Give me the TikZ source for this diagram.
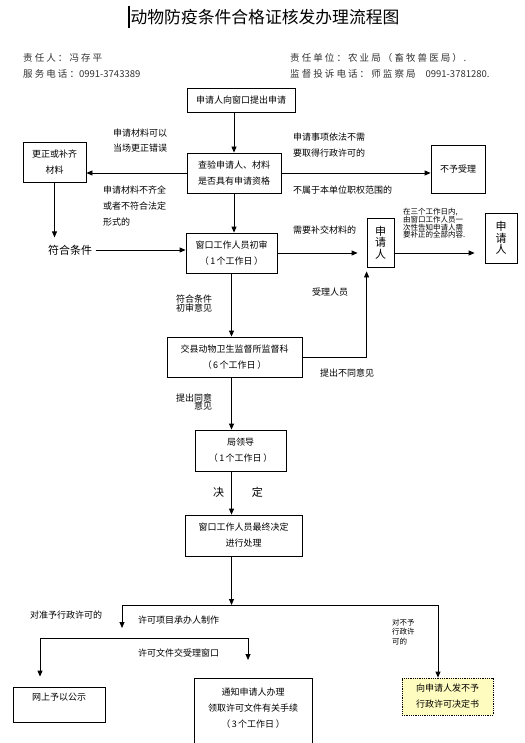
\documentclass[tikz,border=0pt]{standalone}
\usepackage{fontspec}
\setmainfont{Noto Sans CJK SC}
\usetikzlibrary{arrows.meta,positioning}
\newcommand{\wide}[1]{{\addfontfeature{LetterSpace=22}#1}}

\begin{document}
\begin{tikzpicture}[
  x=1pt,y=-1pt,
  box/.style={draw,line width=0.8pt,align=center,inner sep=1pt,font=\fontsize{9}{16}\selectfont},
  vbox/.style={box,font=\fontsize{11}{11.5}\selectfont},
  note/.style={anchor=west,align=left,inner sep=0pt,font=\fontsize{9}{16}\selectfont},
  head/.style={anchor=west,inner sep=0pt,text=black!80,font=\fontsize{9.5}{10}\selectfont},
  wire/.style={line width=0.8pt},
  arrow/.style={-{Triangle[length=6pt,width=5pt]},line width=0.8pt}
]
\useasboundingbox (0,0) rectangle (524,743);
\clip (0,0) rectangle (524,743);
\fill[white] (0,0) rectangle (524,743);

\node[font=\fontsize{16.8}{20}\selectfont] (title) at (265,17) {动物防疫条件合格证核发办理流程图};
\draw[line width=1.8pt] ([xshift=2pt]title.north west) -- ([xshift=2pt]title.south west);

\node[head] (who) at (23,58) {\wide{责任人：冯存平}};
\node[head] (tel) at (23,74) {\wide{服务电话：}0991-3743389};
\node[head] (unit) at (290,58) {\wide{责任单位：农业局（畜牧兽医局）}\,.};
\node[head] (watch) at (290,74) {\wide{监督投诉电话：师监察局}\hspace{10pt}0991-3781280.};

\node[box,minimum width=108,minimum height=24] (apply) at (241,100) {申请人向窗口提出申请};
\node[box,minimum width=94,minimum height=40] (check) at (234,173) {查验申请人、材料\\是否具有申请资格};
\node[box,minimum width=63,minimum height=40] (fix) at (54.5,162) {更正或补齐\\材料};
\node[box,minimum width=54,minimum height=48] (reject) at (458,169) {不予受理};
\node[font=\fontsize{11}{12}\selectfont] (ok) at (70,250) {符合条件};
\node[box,minimum width=91,minimum height=40] (first) at (231.5,253) {窗口工作人员初审\\（\,1\,个工作日\,）};
\node[vbox,minimum width=27,minimum height=49] (appl1) at (380.5,242.5) {申\\请\\人};
\node[vbox,minimum width=32,minimum height=50] (appl2) at (501,238) {申\\请\\人};
\node[box,minimum width=135,minimum height=40] (county) at (234.5,357) {交县动物卫生监督所监督科\\（\,6\,个工作日\,）};
\node[box,minimum width=91,minimum height=41] (leader) at (240.5,450.5) {局领导\\（\,1\,个工作日\,）};
\node[box,minimum width=117,minimum height=41] (final) at (243.5,535.5) {窗口工作人员最终决定\\进行处理};
\node[box,minimum width=92,minimum height=35] (online) at (59,704.5) {网上予以公示\\\mbox{}};
\node[box,minimum width=118,minimum height=76] (notify) at (253,716) {通知申请人办理\\领取许可文件有关手续\\（\,3\,个工作日\,）\\\mbox{}};
\node[box,densely dotted,fill=yellow!25,minimum width=91,minimum height=37] (deny) at (447.5,696.5) {向申请人发不予\\行政许可决定书};

\node[note,font=\fontsize{9}{15.5}\selectfont] (fixnote) at (113,140.5) {申请材料可以\\当场更正错误};
\node[note] (lacknote) at (103,206) {申请材料不齐全\\或者不符合法定\\形式的};
\node[note] (neednote) at (293,145) {申请事项依法不需\\要取得行政许可的};
\node[note] (scopenote) at (293,190) {不属于本单位职权范围的};
\node[note] (morenote) at (293,230) {需要补交材料的};
\node[note,font=\fontsize{7.5}{7.4}\selectfont] (daynote) at (403,223) {在三个工作日内,\\由窗口工作人员一\\次性告知申请人需\\要补正的全部内容.};
\node[note] (staffnote) at (312,292) {受理人员};
\node[note] (othernote) at (320,373) {提出不同意见};
\node[note,font=\fontsize{9}{9.5}\selectfont] (passnote) at (176,303.5) {符合条件\\初审意见};
\node[note,align=right,font=\fontsize{9}{8.5}\selectfont] (agreenote) at (176,402) {提出同意\\意见};
\node[font=\fontsize{11}{12}\selectfont] (decide) at (238,492) {决\hspace{28pt}定};
\node[note] (grantnote) at (30,615) {对准予行政许可的};
\node[note] (makenote) at (138,620) {许可项目承办人制作};
\node[note] (sendnote) at (138,653) {许可文件交受理窗口};
\node[note,font=\fontsize{7.5}{9.5}\selectfont] (denynote) at (392,632) {对不予\\行政许\\可的};

\coordinate (split) at (231.5,605);
\coordinate (splitL) at (122,605);
\coordinate (splitR) at (438,605);
\coordinate (permit) at (122,628);
\coordinate (pubL) at (40,638);
\coordinate (pubR) at (248,638);
\coordinate (pubEnd) at (248,660);

\draw[arrow] (apply.south -| check) -- (check.north);
\draw[arrow] (check.west) -- (check.west -| fix.east);
\draw[arrow] (check.east) -- (check.east -| reject.west);
\draw[arrow,shorten >=4pt] (fix.south) -- (fix.south |- ok.north);
\draw[arrow] (ok.east) -- (ok.east -| first.west);
\draw[arrow] (check.south) -- (check.south |- first.north);
\draw[arrow,shorten >=9pt] (first.east) -- (first.east -| appl1.west);
\draw[arrow,shorten >=10pt] (appl1.east |- first.east) -- (first.east -| appl2.west);
\draw[arrow] (first.south) -- (first.south |- county.north);
\draw[arrow,shorten >=4pt] (county.east) -| (appl1.south west);
\draw[arrow] (first |- county.south) -- (first |- leader.north);
\draw[arrow] (first |- leader.south) -- (first |- final.north);
\draw[arrow] (first |- final.south) -- (split);
\draw[wire] (splitL) -- (splitR);
\draw[arrow] (splitL) -- (permit);
\draw[arrow] (splitR) -- (splitR |- deny.north);
\draw[wire] (pubL) -- (pubR);
\draw[arrow,shorten >=10pt] (pubL) -- (pubL |- online.north);
\draw[arrow] (pubR) -- (pubEnd);
\end{tikzpicture}
\end{document}
